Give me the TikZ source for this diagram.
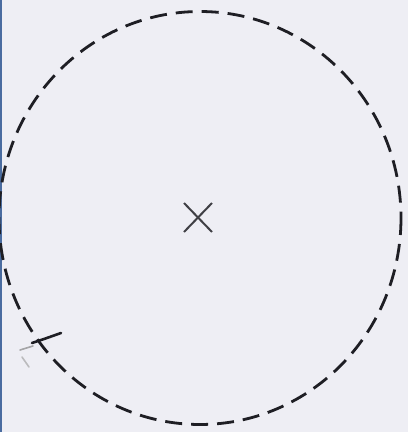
\documentclass[tikz,border=0pt]{standalone}
\usepackage{xcolor}
\usepackage{tikz}
\definecolor{paper}{RGB}{238,238,244}
\definecolor{edgeblue}{RGB}{74,108,160}
\definecolor{ink}{RGB}{30,30,36}
\tikzset{
  outline/.style={draw=ink, line width=2.8pt, dash pattern=on 17pt off 9pt},
  crossline/.style={draw=ink!85, line width=2pt},
  scribble/.style={draw=ink, line width=2.6pt, line cap=round}
}
\begin{document}
\begin{tikzpicture}[x=1pt, y=-1pt]
\fill[paper] (0,0) rectangle (408,432);
\useasboundingbox (0,0) rectangle (408,432);
\fill[edgeblue] (0,0) rectangle (2,432);
% dashed boundary
\coordinate (c) at (200,218);
\draw[outline] (c) ellipse [x radius=201, y radius=206.5];
% centre mark
\draw[crossline] (184,203) -- (212,232);
\draw[crossline] (212,203) -- (184,232);
% pen mark, lower left
\draw[scribble] (32,343) -- (44,339) -- (61,333);
\draw[scribble, draw=ink!40, line width=1.6pt] (20,350) -- (33,346);
\draw[scribble, draw=ink!30, line width=1.6pt] (22,357) -- (29,367);
\end{tikzpicture}
\end{document}
